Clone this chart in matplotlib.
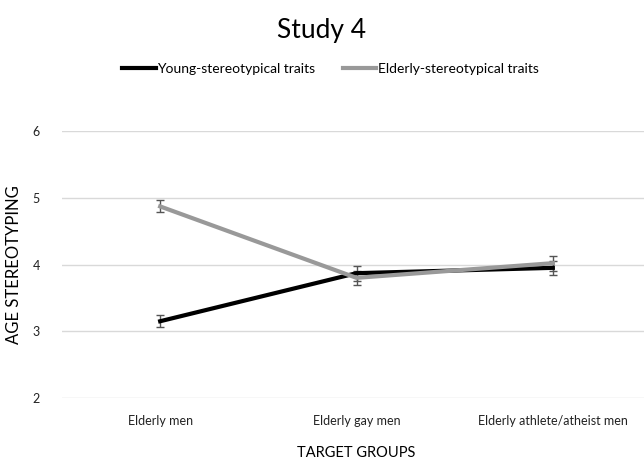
import matplotlib.pyplot as plt
from matplotlib.lines import Line2D

groups = ["Elderly men", "Elderly gay men", "Elderly athlete/atheist men"]
young_traits = [3.15, 3.87, 3.95]
young_err = [0.09, 0.11, 0.10]
elderly_traits = [4.87, 3.80, 4.02]
elderly_err = [0.09, 0.10, 0.11]

plt.rcParams['font.family'] = ['Lato', 'DejaVu Sans']

fig = plt.figure(figsize=(6.44, 4.62), dpi=100)
ax = fig.add_axes([62 / 644, 64 / 462, 589 / 644, 267 / 462])

x = range(len(groups))
ax.errorbar(x, young_traits, yerr=young_err, color="black", lw=3,
            ecolor="#555555", elinewidth=1, capsize=3, capthick=1,
            label="Young-stereotypical traits", zorder=3)
ax.errorbar(x, elderly_traits, yerr=elderly_err, color="#999999", lw=3,
            ecolor="#555555", elinewidth=1, capsize=3, capthick=1,
            label="Elderly-stereotypical traits", zorder=3)

ax.set_xlim(-0.5, 2.5)
ax.set_ylim(2, 6)
ax.set_yticks([2, 3, 4, 5, 6])
ax.set_xticks(list(x))
ax.set_xticklabels(groups, fontsize=9, color="#222222")
ax.tick_params(axis="y", labelsize=9, labelcolor="#222222", length=0, pad=16)
ax.tick_params(axis="x", length=0, pad=12)
ax.grid(axis="y", color="#d9d9d9", lw=1)
ax.set_axisbelow(True)
for s in ax.spines.values():
    s.set_visible(False)

ax.set_ylabel("AGE STEREOTYPING", fontsize=12)
ax.yaxis.set_label_coords(-0.068, 0.5)
ax.set_xlabel("TARGET GROUPS", fontsize=10.5, labelpad=14)

fig.text(0.5, 0.935, "Study 4", ha="center", va="center", fontsize=19)
labels = ["Young-stereotypical traits", "Elderly-stereotypical traits"]
handles = [Line2D([], [], color="black", lw=3), Line2D([], [], color="#999999", lw=3)]
fig.legend(handles, labels, loc="center", bbox_to_anchor=(0.513, 0.85), ncol=2,
           frameon=False, fontsize=10, handlelength=2.4, handletextpad=0.1,
           columnspacing=2.0)

fig.savefig("out.png", dpi=100)
